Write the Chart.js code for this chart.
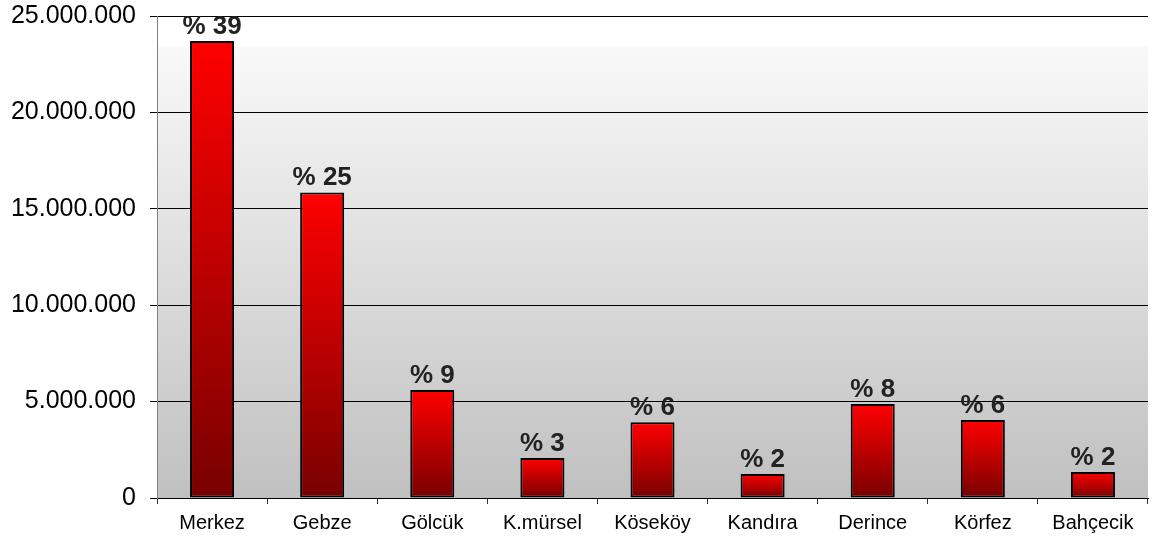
<!DOCTYPE html>
<html>
<head>
<meta charset="utf-8">
<script src="https://cdn.jsdelivr.net/npm/chart.js@4"></script>
<style>
  html, body { margin: 0; padding: 0; background: #ffffff; }
  #wrap { width: 1155px; height: 544px; }
</style>
</head>
<body>
<div id="wrap"><canvas id="c" width="1155" height="544"></canvas></div>
<script>
// District names
const categories = ['Merkez', 'Gebze', 'Gölcük', 'K.mürsel', 'Köseköy', 'Kandıra', 'Derince', 'Körfez', 'Bahçecik'];
// Amount per district
const values = [23700000, 15850000, 5600000, 2080000, 3930000, 1250000, 4870000, 4040000, 1350000];
// Share labels shown above the bars
const shares = [39, 25, 9, 3, 6, 2, 8, 6, 2];
// Y axis tick values
const yTicks = [0, 5000000, 10000000, 15000000, 20000000, 25000000];

const FONT = "'Liberation Sans', Arial, sans-serif";

function fmtThousands(v) {
  return String(v).replace(/\B(?=(\d{3})+(?!\d))/g, '.');
}

// Per-bar vertical gradient: bright red at the top, dark red at the base
function barGradient(ctx) {
  const chart = ctx.chart;
  const ys = chart.scales && chart.scales.y;
  if (!chart.chartArea || !ys || ctx.dataIndex === undefined) return '#ff0000';
  const top = ys.getPixelForValue(values[ctx.dataIndex]);
  const bottom = ys.getPixelForValue(0);
  const g = chart.ctx.createLinearGradient(0, top, 0, bottom);
  g.addColorStop(0, '#ff0000');
  g.addColorStop(1, '#780000');
  return g;
}

// Plot area background: light at the top fading to grey at the bottom
const plotBackground = {
  id: 'plotBackground',
  beforeDraw(chart) {
    const { ctx, chartArea: a } = chart;
    const g = ctx.createLinearGradient(0, a.top, 0, a.bottom);
    g.addColorStop(0, '#ffffff');
    g.addColorStop(0.062, '#ffffff');
    g.addColorStop(0.064, '#f9f9f9');
    g.addColorStop(1, '#c0c0c0');
    ctx.save();
    ctx.fillStyle = g;
    ctx.fillRect(a.left, a.top, a.right - a.left, a.bottom - a.top);
    ctx.restore();
  }
};

// Share labels drawn centred above each bar
const shareLabels = {
  id: 'shareLabels',
  afterDatasetsDraw(chart) {
    const { ctx } = chart;
    const meta = chart.getDatasetMeta(0);
    ctx.save();
    ctx.font = "bold 26px " + FONT;
    ctx.fillStyle = '#222222';
    ctx.textAlign = 'center';
    ctx.textBaseline = 'alphabetic';
    meta.data.forEach((bar, i) => {
      ctx.fillText('% ' + shares[i], bar.x, bar.y - 7);
    });
    ctx.restore();
  }
};

new Chart(document.getElementById('c'), {
  type: 'bar',
  data: {
    labels: categories,
    datasets: [{
      data: values,
      backgroundColor: barGradient,
      borderColor: '#000000',
      borderWidth: 2,
      borderSkipped: false,
      categoryPercentage: 1,
      barPercentage: 0.4
    }]
  },
  options: {
    responsive: false,
    animation: false,
    devicePixelRatio: 1,
    layout: { padding: { top: 16, right: 7, left: 0, bottom: 0 } },
    plugins: {
      legend: { display: false },
      tooltip: { enabled: false }
    },
    scales: {
      x: {
        grid: {
          display: true,
          drawOnChartArea: false,
          drawTicks: true,
          tickLength: 6,
          tickColor: '#333333',
          offset: true
        },
        border: { display: true, color: '#000000', width: 1 },
        ticks: {
          color: '#000000',
          font: { family: FONT, size: 20 },
          padding: 7,
          maxRotation: 0,
          autoSkip: false
        },
        afterFit(scale) {
          scale.height = 46;
          scale.paddingLeft = 0;
          scale.paddingRight = 0;
        }
      },
      y: {
        min: 0,
        max: 25000000,
        afterBuildTicks(scale) {
          scale.ticks = yTicks.map(v => ({ value: v }));
        },
        grid: {
          color: '#000000',
          lineWidth: 1,
          drawTicks: true,
          tickLength: 7,
          tickColor: '#000000'
        },
        border: { display: true, color: '#808080', width: 1 },
        ticks: {
          color: '#000000',
          font: { family: FONT, size: 25 },
          padding: 14,
          callback: v => fmtThousands(v)
        },
        afterFit(scale) {
          scale.width = 157;
          scale.paddingTop = 0;
          scale.paddingBottom = 0;
        }
      }
    }
  },
  plugins: [plotBackground, shareLabels]
});
</script>
</body>
</html>
